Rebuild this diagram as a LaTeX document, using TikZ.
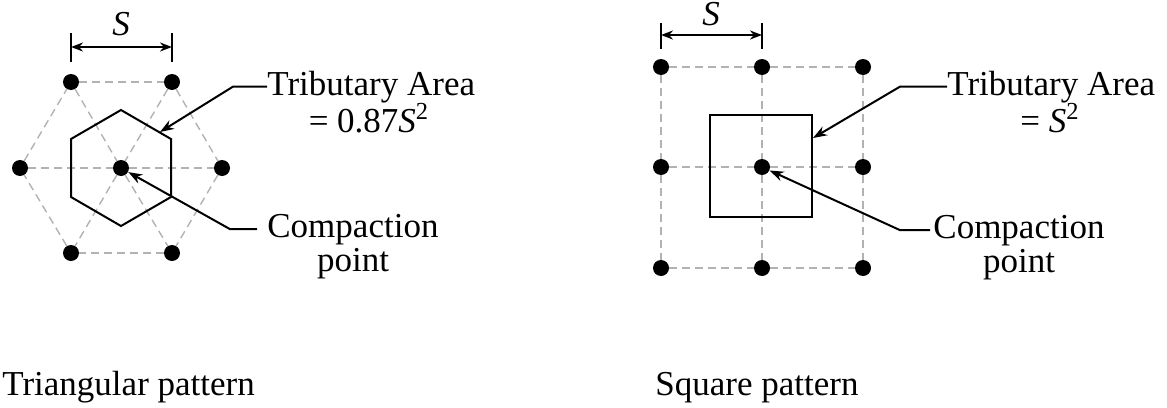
\documentclass[tikz,border=0pt]{standalone}
\usepackage{fontspec}
\setmainfont{Liberation Serif}
\usepackage{tikz}
\usetikzlibrary{arrows.meta, positioning, calc}

\begin{document}
\begin{tikzpicture}[
  x=0.5pt, y=-0.5pt,
  pile/.style={circle, fill=black, inner sep=0pt, minimum size=8pt},
  grid_line/.style={gray!60, line width=0.7pt, dash pattern=on 4pt off 2.5pt},
  area_line/.style={line width=1pt},
  pointer/.style={-{Stealth[length=7pt, width=5pt]}, line width=1pt},
  dim_line/.style={{Stealth[length=6pt, width=4.5pt]}-{Stealth[length=6pt, width=4.5pt]}, line width=1.1pt},
  lbl/.style={font=\fontsize{17.5}{21}\selectfont, inner sep=0pt}
]
  \useasboundingbox (0,0) rectangle (1167,407);

  % TRIANGULAR PATTERN
  \node (tri_c) [pile] at (121,168) {};
  \node (tri_1) [pile] at (71,82) {};
  \node (tri_2) [pile] at (172,82) {};
  \node (tri_3) [pile] at (20,168) {};
  \node (tri_4) [pile] at (222,168) {};
  \node (tri_5) [pile] at (71,253) {};
  \node (tri_6) [pile] at (172,253) {};

  \draw[grid_line] (tri_1) -- (tri_2);
  \draw[grid_line] (tri_2) -- (tri_4);
  \draw[grid_line] (tri_4) -- (tri_6);
  \draw[grid_line] (tri_6) -- (tri_5);
  \draw[grid_line] (tri_5) -- (tri_3);
  \draw[grid_line] (tri_3) -- (tri_1);
  \draw[grid_line] (tri_1) -- (tri_c) -- (tri_6);
  \draw[grid_line] (tri_2) -- (tri_c) -- (tri_5);
  \draw[grid_line] (tri_3) -- (tri_c) -- (tri_4);

  \draw[area_line] (121,110) -- (171,139) -- (171,197) -- (121,226) -- (71,197) -- (71,139) -- cycle;
  \coordinate (hex_tip) at (160,132);

  % spacing S
  \coordinate (tri_dl) at (71,47);
  \coordinate (tri_dr) at (172,47);
  \draw[dim_line] (tri_dl) -- (tri_dr);
  \draw[line width=1pt] (tri_dl) ++(0,-14) -- ++(0,29);
  \draw[line width=1pt] (tri_dr) ++(0,-14) -- ++(0,29);
  \node (tri_s) [lbl] at (121,24) {\textit{S}};

  \node (tri_area) [lbl, anchor=base west] at (267,95) {Tributary Area};
  \node (tri_val) [lbl, anchor=base] at (369,132) {= 0.87\textit{S}\textsuperscript{2}};
  \node (tri_comp) [lbl, anchor=base west] at (267,237) {Compaction};
  \node (tri_pt) [lbl, anchor=base] at (353,271) {point};

  \draw[pointer] (tri_area.west) -- ++(-34,0) -- (hex_tip);
  \draw[pointer] (tri_comp.west) ++(-10,0) -- ++(-27,0) -- (tri_c);

  \node (tri_name) [lbl, anchor=base west] at (2,395) {Triangular pattern};

  % SQUARE PATTERN
  \node (sq_11) [pile] at (661,67) {};
  \node (sq_12) [pile] at (762,67) {};
  \node (sq_13) [pile] at (863,67) {};
  \node (sq_21) [pile] at (661,167) {};
  \node (sq_c)  [pile] at (762,167) {};
  \node (sq_23) [pile] at (863,167) {};
  \node (sq_31) [pile] at (661,268) {};
  \node (sq_32) [pile] at (762,268) {};
  \node (sq_33) [pile] at (863,268) {};

  \draw[grid_line] (sq_11) -- (sq_12) -- (sq_13);
  \draw[grid_line] (sq_21) -- (sq_c) -- (sq_23);
  \draw[grid_line] (sq_31) -- (sq_32) -- (sq_33);
  \draw[grid_line] (sq_11) -- (sq_21) -- (sq_31);
  \draw[grid_line] (sq_12) -- (sq_c) -- (sq_32);
  \draw[grid_line] (sq_13) -- (sq_23) -- (sq_33);

  \node (sq_box) [draw, area_line, minimum size=51pt, inner sep=0pt] at (761,166) {};
  \coordinate (sq_tip) at (813,138);

  % spacing S
  \coordinate (sq_dl) at (661,35);
  \coordinate (sq_dr) at (762,35);
  \draw[dim_line] (sq_dl) -- (sq_dr);
  \draw[line width=1pt] (sq_dl) ++(0,-12) -- ++(0,26);
  \draw[line width=1pt] (sq_dr) ++(0,-12) -- ++(0,26);
  \node (sq_s) [lbl] at (711,14) {\textit{S}};

  \node (sq_area) [lbl, anchor=base west] at (947,95) {Tributary Area};
  \node (sq_val) [lbl, anchor=base] at (1050,132) {= \textit{S}\textsuperscript{2}};
  \node (sq_comp) [lbl, anchor=base west] at (933,238) {Compaction};
  \node (sq_pt) [lbl, anchor=base] at (1019,272) {point};

  \draw[pointer] (sq_area.west) -- ++(-47,0) -- (sq_tip);
  \draw[pointer] (sq_comp.west) ++(-3,0) -- ++(-30,0) -- (sq_c);

  \node (sq_name) [lbl, anchor=base west] at (655,395) {Square pattern};

\end{tikzpicture}
\end{document}
